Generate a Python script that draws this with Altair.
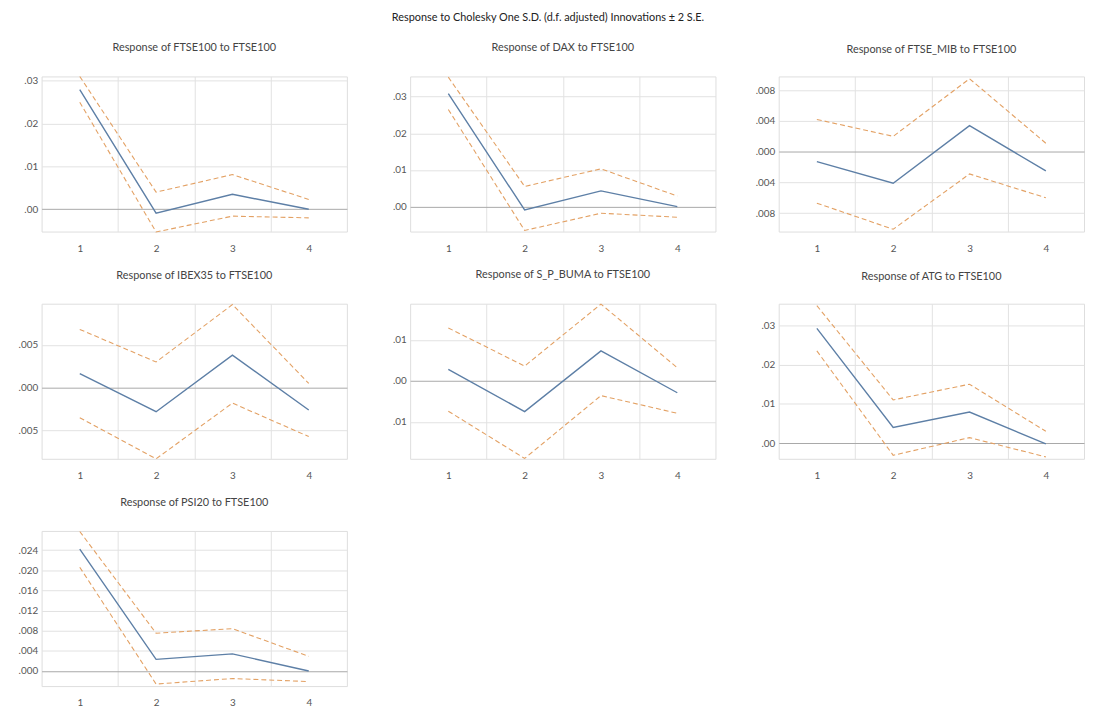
import altair as alt
import pandas as pd

periods = [1, 2, 3, 4]
names = ["FTSE100", "DAX", "FTSE_MIB", "IBEX35", "S_P_BUMA", "ATG", "PSI20"]

resp = {
    "FTSE100": [0.0279, -0.0009, 0.0035, 0.0000],
    "DAX": [0.0308, -0.0009, 0.0043, 0.0000],
    "FTSE_MIB": [-0.0013, -0.0041, 0.0034, -0.0025],
    "IBEX35": [0.00165, -0.0028, 0.0038, -0.0026],
    "S_P_BUMA": [0.0028, -0.0075, 0.0073, -0.0029],
    "ATG": [0.0292, 0.0040, 0.0079, -0.0002],
    "PSI20": [0.0242, 0.0023, 0.0034, 0.0000],
}
upper = {
    "FTSE100": [0.0310, 0.0040, 0.0081, 0.0023],
    "DAX": [0.0353, 0.0055, 0.0103, 0.0029],
    "FTSE_MIB": [0.0042, 0.0020, 0.0095, 0.0011],
    "IBEX35": [0.0068, 0.0030, 0.0097, 0.0005],
    "S_P_BUMA": [0.0129, 0.0036, 0.0187, 0.0032],
    "ATG": [0.0350, 0.0110, 0.0150, 0.0030],
    "PSI20": [0.0277, 0.0075, 0.0084, 0.0029],
}
lower = {
    "FTSE100": [0.0250, -0.0053, -0.0016, -0.0020],
    "DAX": [0.0265, -0.0065, -0.0018, -0.0029],
    "FTSE_MIB": [-0.0067, -0.0101, -0.0029, -0.0060],
    "IBEX35": [-0.0035, -0.0083, -0.0018, -0.0057],
    "S_P_BUMA": [-0.0074, -0.0189, -0.0036, -0.0079],
    "ATG": [0.0235, -0.0031, 0.0014, -0.0035],
    "PSI20": [0.0206, -0.0026, -0.0015, -0.0021],
}
y_domains = {
    "FTSE100": [-0.0052, 0.0310],
    "DAX": [-0.0068, 0.0355],
    "FTSE_MIB": [-0.0104, 0.0098],
    "IBEX35": [-0.0083, 0.0098],
    "S_P_BUMA": [-0.0190, 0.0188],
    "ATG": [-0.0040, 0.0355],
    "PSI20": [-0.0030, 0.0278],
}
y_ticks = {
    "FTSE100": [0.0, 0.01, 0.02, 0.03],
    "DAX": [0.0, 0.01, 0.02, 0.03],
    "FTSE_MIB": [-0.008, -0.004, 0.0, 0.004, 0.008],
    "IBEX35": [-0.005, 0.0, 0.005],
    "S_P_BUMA": [-0.01, 0.0, 0.01],
    "ATG": [0.0, 0.01, 0.02, 0.03],
    "PSI20": [0.0, 0.004, 0.008, 0.012, 0.016, 0.020, 0.024],
}
y_fmt = {
    "FTSE100": ".2f", "DAX": ".2f", "FTSE_MIB": ".3f", "IBEX35": ".3f",
    "S_P_BUMA": ".2f", "ATG": ".2f", "PSI20": ".3f",
}
x_ticks = [1, 1.5, 2, 2.5, 3, 3.5, 4]

FONT = "Lato"
W, H = 309, 157
BLUE = "#5d7fa6"
ORANGE = "#e3a164"


def panel(name):
    rows = []
    for p, r, u, l in zip(periods, resp[name], upper[name], lower[name]):
        rows.append({"period": p, "value": r, "band": "resp"})
        rows.append({"period": p, "value": u, "band": "upper"})
        rows.append({"period": p, "value": l, "band": "lower"})
    df = pd.DataFrame(rows)
    x = alt.X(
        "period:Q",
        scale=alt.Scale(domain=[0.5, 4.5], nice=False, zero=False),
        axis=alt.Axis(
            values=x_ticks, title=None, domain=False, ticks=False,
            labelExpr="datum.value % 1 === 0 ? format(datum.value, 'd') : ''",
            labelPadding=12, labelFontSize=10, labelColor="#555", labelFont=FONT,
            gridColor="#e2e2e2",
            gridOpacity={"condition": {"test": "datum.value % 1 === 0", "value": 0}, "value": 1},
            minExtent=24, maxExtent=24,
        ),
    )
    y = alt.Y(
        "value:Q",
        scale=alt.Scale(domain=y_domains[name], nice=False, zero=False),
        axis=alt.Axis(
            values=y_ticks[name], title=None, domain=False, ticks=False,
            labelExpr="replace(format(abs(datum.value), '%s'), '0.', '.')" % y_fmt[name],
            labelPadding=4, labelFontSize=10, labelColor="#555", labelFont=FONT,
            gridColor={"condition": {"test": "datum.value === 0", "value": "#a8a8a8"}, "value": "#e2e2e2"},
            minExtent=30, maxExtent=30,
        ),
    )
    base = alt.Chart(df)
    solid = base.transform_filter("datum.band === 'resp'").mark_line(
        color=BLUE, strokeWidth=1.4
    ).encode(x=x, y=y)
    dashed = base.transform_filter("datum.band !== 'resp'").mark_line(
        color=ORANGE, strokeWidth=1.1, strokeDash=[5, 3]
    ).encode(x=x, y=y, detail="band:N")
    return alt.layer(dashed, solid).properties(
        width=W, height=H,
        title=alt.TitleParams(
            f"Response of {name} to FTSE100", fontSize=11, font=FONT,
            fontWeight="normal", color="#444", offset=22,
        ),
    )


row1 = alt.hconcat(panel("FTSE100"), panel("DAX"), panel("FTSE_MIB"), spacing=32)
row2 = alt.hconcat(panel("IBEX35"), panel("S_P_BUMA"), panel("ATG"), spacing=32)
row3 = alt.hconcat(panel("PSI20"), spacing=32)

chart = alt.vconcat(row1, row2, row3, spacing=12).properties(
    title=alt.TitleParams(
        "Response to Cholesky One S.D. (d.f. adjusted) Innovations ± 2 S.E.",
        fontSize=11, font=FONT, fontWeight="normal", color="#222",
        anchor="middle", offset=18,
    ),
    padding={"left": 3, "top": 0, "right": 0, "bottom": 0},
).configure_view(stroke=None).configure(background="white")

chart.save("out.html", embed_options={"renderer": "svg", "actions": False})
